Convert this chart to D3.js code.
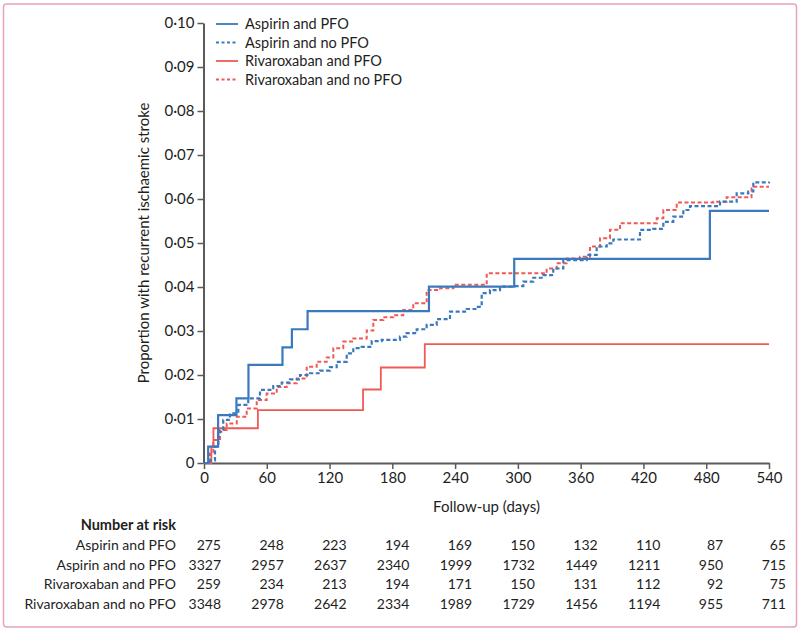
<!DOCTYPE html>
<html>
<head>
<meta charset="utf-8">
<script src="https://cdn.jsdelivr.net/npm/d3@7"></script>
<style>
  html, body { margin: 0; padding: 0; background: #fff; }
  svg { display: block; font-family: Lato, "Noto Sans", sans-serif; }
</style>
</head>
<body>
<svg id="chart" width="800" height="634"></svg>
<script>
// ---- data ----
const seriesNames = ["Aspirin and PFO", "Aspirin and no PFO", "Rivaroxaban and PFO", "Rivaroxaban and no PFO"];

// [day, cumulative proportion] step points
const aspirinPFO = [[0,0],[4,0.0037],[13.5,0.0109],[31,0.0147],[42.5,0.0223],[75,0.0263],[84,0.0304],[99,0.0345],[215,0.0401],[296.5,0.0464],[483.5,0.0573],[540,0.0573]];
const aspirinNoPFO = [[0,0],[5.7,0.0006],[10.5,0.0037],[13.7,0.0071],[18.4,0.0098],[24.8,0.0113],[32.8,0.0132],[42.3,0.0147],[53.5,0.0166],[66.2,0.0175],[74.3,0.0183],[82.2,0.019],[91.8,0.020],[101.3,0.0204],[110.9,0.021],[120.4,0.0218],[126.8,0.023],[136.4,0.0249],[142.7,0.0261],[150.7,0.0264],[160.3,0.0277],[169.8,0.028],[177.8,0.028],[187.3,0.0287],[193.7,0.0295],[203.3,0.0304],[212.8,0.0314],[222.4,0.0327],[235.1,0.0344],[251.1,0.035],[260.6,0.0355],[265.4,0.0386],[273.3,0.0393],[282.9,0.0401],[295.6,0.0402],[305.2,0.0412],[314.7,0.0421],[324.3,0.0427],[333.8,0.0442],[343.4,0.0461],[356.2,0.0461],[365.8,0.0473],[375.3,0.0492],[384.9,0.0499],[391.2,0.0508],[407.2,0.0508],[416.7,0.053],[429.4,0.0532],[439,0.0548],[448.5,0.056],[458.1,0.0575],[464.5,0.0584],[483.6,0.0584],[493.2,0.0594],[509.1,0.0613],[520.2,0.0617],[525,0.0638],[540,0.0639]];
const rivaroxabanPFO = [[0,0],[7,0.0037],[9,0.0079],[51.5,0.012],[152,0.0167],[169,0.0217],[211,0.027],[540,0.027]];
const rivaroxabanNoPFO = [[0,0],[5.7,0.0021],[8.9,0.0052],[15.3,0.0075],[21.7,0.009],[31.3,0.0105],[40.8,0.0124],[50.4,0.0143],[59.9,0.0158],[69.5,0.0173],[79,0.0181],[88.6,0.0192],[98.2,0.0219],[107.7,0.023],[117.3,0.024],[123.6,0.0261],[133.1,0.0276],[142.7,0.0283],[155.5,0.0301],[161.8,0.0325],[171.4,0.0331],[180.9,0.0336],[190.5,0.0348],[200,0.0363],[212.8,0.0393],[225.6,0.0397],[238.3,0.0405],[257.4,0.0405],[270.2,0.0431],[314.7,0.0431],[327.5,0.0442],[337.1,0.0454],[346.6,0.0465],[359.4,0.0469],[368.9,0.0492],[378.5,0.0511],[388,0.053],[397.6,0.0545],[423.1,0.0545],[432.7,0.0556],[439,0.0575],[451.8,0.0592],[486.8,0.0594],[499.5,0.0604],[518.6,0.0604],[523.3,0.0628],[540,0.0628]];

const xTicks = [0, 60, 120, 180, 240, 300, 360, 420, 480, 540];
const yTicks = [0, 0.01, 0.02, 0.03, 0.04, 0.05, 0.06, 0.07, 0.08, 0.09, 0.10];
const yTickLabels = ["0", "0·01", "0·02", "0·03", "0·04", "0·05", "0·06", "0·07", "0·08", "0·09", "0·10"];

const riskTimes = [0, 60, 120, 180, 240, 300, 360, 420, 480, 540];
const riskAspirinPFO = [275, 248, 223, 194, 169, 150, 132, 110, 87, 65];
const riskAspirinNoPFO = [3327, 2957, 2637, 2340, 1999, 1732, 1449, 1211, 950, 715];
const riskRivaroxabanPFO = [259, 234, 213, 194, 171, 150, 131, 112, 92, 75];
const riskRivaroxabanNoPFO = [3348, 2978, 2642, 2334, 1989, 1729, 1456, 1194, 955, 711];

// ---- layout ----
const svg = d3.select("#chart");
const plotLeft = 204, plotRight = 769, plotTop = 23, plotBottom = 463;
const blue = "#3a79bd", red = "#ef5a55";
const axisColor = "#5a5a5a";
const textColor = "#1e1e1e";

// frame
svg.append("rect").attr("x", 3.5).attr("y", 4).attr("width", 793).attr("height", 623)
  .attr("rx", 3).attr("fill", "none").attr("stroke", "#e8a3b6").attr("stroke-width", 1.5);

const x = d3.scaleLinear().domain([0, 540]).range([plotLeft, plotRight]);
const y = d3.scaleLinear().domain([0, 0.10]).range([plotBottom, plotTop]);

// axes
const xAxis = svg.append("g").attr("transform", `translate(0,${plotBottom})`)
  .call(d3.axisBottom(x).tickValues(xTicks).tickSize(6).tickSizeOuter(0).tickPadding(3));
const yAxis = svg.append("g").attr("transform", `translate(${plotLeft - 0.5},0)`)
  .call(d3.axisLeft(y).tickValues(yTicks).tickSize(6).tickSizeOuter(0).tickPadding(3)
    .tickFormat((d, i) => yTickLabels[i]));
[xAxis, yAxis].forEach(g => {
  g.select(".domain").attr("stroke", axisColor).attr("stroke-width", 2);
  g.selectAll(".tick line").attr("stroke", axisColor).attr("stroke-width", 1.5);
  g.selectAll(".tick text").attr("fill", textColor).style("font-size", "15px").style("font-family", "Lato, sans-serif");
});

// axis titles
svg.append("text").attr("x", (plotLeft + plotRight) / 2).attr("y", 512).attr("text-anchor", "middle")
  .style("font-size", "15px").attr("fill", textColor).text("Follow-up (days)");
svg.append("text").attr("transform", `translate(149,${(plotTop + plotBottom) / 2}) rotate(-90)`)
  .attr("text-anchor", "middle").style("font-size", "15px").attr("fill", textColor)
  .text("Proportion with recurrent ischaemic stroke");

// curves
const line = d3.line().x(d => x(d[0])).y(d => y(d[1])).curve(d3.curveStepAfter);
const series = [
  { name: seriesNames[0], data: aspirinPFO, color: blue, dash: null, w: 2.2 },
  { name: seriesNames[1], data: aspirinNoPFO, color: blue, dash: "4,2.5", w: 2.2 },
  { name: seriesNames[2], data: rivaroxabanPFO, color: red, dash: null, w: 1.8 },
  { name: seriesNames[3], data: rivaroxabanNoPFO, color: red, dash: "4,2.5", w: 2 }
];
const drawOrder = [2, 3, 1, 0];
drawOrder.forEach(i => {
  const s = series[i];
  svg.append("path").attr("d", line(s.data)).attr("fill", "none")
    .attr("stroke", s.color).attr("stroke-width", s.w)
    .attr("stroke-dasharray", s.dash).attr("stroke-linejoin", "miter");
});

// legend
const legendY = [24, 42.5, 61, 79.5];
series.forEach((s, i) => {
  svg.append("line").attr("x1", 216).attr("x2", 238).attr("y1", legendY[i]).attr("y2", legendY[i])
    .attr("stroke", s.color).attr("stroke-width", s.dash ? 2 : 1.8)
    .attr("stroke-dasharray", s.dash ? "3,2.5" : null);
  svg.append("text").attr("x", 245).attr("y", legendY[i]).attr("dy", "0.35em")
    .style("font-size", "14.5px").attr("fill", textColor).text(s.name);
});

// number at risk table
svg.append("text").attr("x", 176).attr("y", 525).attr("dy", "0.35em").attr("text-anchor", "end")
  .style("font-size", "14.5px").style("font-weight", "bold").attr("fill", textColor).text("Number at risk");
const riskRows = [riskAspirinPFO, riskAspirinNoPFO, riskRivaroxabanPFO, riskRivaroxabanNoPFO];
const rowY = [545, 565, 584.5, 604];
riskRows.forEach((row, r) => {
  svg.append("text").attr("x", 176).attr("y", rowY[r]).attr("dy", "0.35em").attr("text-anchor", "end")
    .style("font-size", "14px").attr("fill", textColor).text(seriesNames[r]);
  row.forEach((v, j) => {
    svg.append("text").attr("x", x(riskTimes[j]) + 17).attr("y", rowY[r]).attr("dy", "0.35em")
      .attr("text-anchor", "end").style("font-size", "14px").attr("fill", textColor).text(v);
  });
});
</script>
</body>
</html>
